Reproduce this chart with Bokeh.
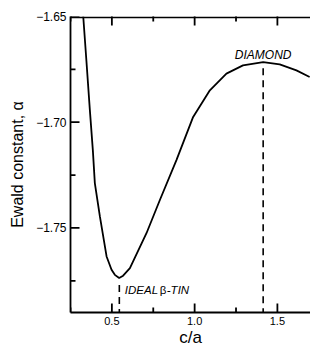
from bokeh.plotting import figure
from bokeh.models import Range1d, FixedTicker, ColumnDataSource
from bokeh.embed import file_html
from bokeh.resources import INLINE
from bokeh.core.properties import value

# Ewald constant vs c/a
ca = [0.327, 0.346, 0.367, 0.385, 0.397, 0.428, 0.468, 0.498, 0.518, 0.544,
      0.568, 0.609, 0.709, 0.790, 0.890, 0.991, 1.092, 1.192, 1.292, 1.414,
      1.514, 1.615, 1.695]
alpha = [-1.6500, -1.6708, -1.6943, -1.7132, -1.7288, -1.7448, -1.7635, -1.7698,
         -1.7722, -1.7737, -1.7726, -1.7690, -1.7525, -1.7368, -1.7179, -1.6975,
         -1.6849, -1.6770, -1.6731, -1.6716, -1.6726, -1.6755, -1.6786]

# marked structures
marker_ca = [0.545, 1.414]
marker_top = [-1.7770, -1.6745]

x_ticks = [0.5, 1.0, 1.5]
x_tick_labels = ["0.5", "1.0", "1.5"]
x_minor = [0.25, 0.75, 1.25]
y_ticks = [-1.75, -1.70, -1.65]
y_tick_labels = ["\u22121.75", "\u22121.70", "\u22121.65"]
y_minor = [-1.775, -1.725, -1.675]

XMIN, XMAX = 0.25, 1.70
YMIN, YMAX = -1.79, -1.65

W, H = 310, 349
BL, BR, BT, BB = 70, 0, 16, 36
FONT = "Liberation Sans"
LW = 1.8

p = figure(width=W, height=H, output_backend="svg", toolbar_location=None,
           x_range=Range1d(XMIN, XMAX), y_range=Range1d(YMIN, YMAX),
           min_border_left=BL, min_border_right=BR, min_border_top=BT,
           min_border_bottom=BB, x_axis_location="below", y_axis_location="left")
p.grid.visible = False
p.outline_line_color = None
p.background_fill_color = "white"
p.border_fill_color = "white"

# data units per screen pixel
dx = (XMAX - XMIN) / (W - BL - BR)
dy = (YMAX - YMIN) / (H - BT - BB)


def style_axis(ax):
    ax.axis_line_color = "black"
    ax.axis_line_width = LW
    ax.major_tick_line_color = None
    ax.minor_tick_line_color = None
    ax.major_tick_in = 0
    ax.major_tick_out = 0
    ax.minor_tick_in = 0
    ax.minor_tick_out = 0
    ax.major_label_text_font = FONT
    ax.major_label_text_color = "black"
    ax.axis_label_text_font = FONT
    ax.axis_label_text_font_style = "normal"
    ax.axis_label_text_color = "black"


xa = p.xaxis[0]
xa.ticker = FixedTicker(ticks=x_ticks, minor_ticks=x_minor)
xa.major_label_overrides = {t: l for t, l in zip(x_ticks, x_tick_labels)}
style_axis(xa)
xa.major_label_text_font_size = "11px"
xa.major_label_standoff = 4
xa.axis_label = "c/a"
xa.axis_label_text_font_size = "17px"
xa.axis_label_standoff = 0

ya = p.yaxis[0]
ya.ticker = FixedTicker(ticks=y_ticks, minor_ticks=y_minor)
ya.major_label_overrides = {t: l for t, l in zip(y_ticks, y_tick_labels)}
style_axis(ya)
ya.major_label_text_font_size = "12px"
ya.major_label_standoff = 4
ya.axis_label = "Ewald constant, \u03b1"
ya.axis_label_text_font_size = "16px"
ya.axis_label_standoff = 7

# top frame line (just inside the frame)
top_src = ColumnDataSource(dict(x=[XMIN, XMAX], y=[YMAX - 0.9 * dy] * 2))
p.line(x="x", y="y", source=top_src, line_color="black", line_width=LW)

MAJ, MIN_ = 9, 5

# bottom x ticks + left y ticks (inward): one combined segment source
x0, y0, x1, y1 = [], [], [], []
for t in x_ticks + x_minor:
    ln = MAJ if t in x_ticks else MIN_
    x0.append(t); x1.append(t); y0.append(YMIN); y1.append(YMIN + ln * dy)
for t in y_ticks + y_minor:
    ln = MAJ if t in y_ticks else MIN_
    x0.append(XMIN); x1.append(XMIN + ln * dx); y0.append(t); y1.append(t)
tick_src = ColumnDataSource(dict(x0=x0, y0=y0, x1=x1, y1=y1))
p.segment(x0="x0", y0="y0", x1="x1", y1="y1", source=tick_src,
          line_color="black", line_width=LW)

# top x ticks as thin rects centred on the top edge (outer half clipped)
top_maj = ColumnDataSource(dict(x=x_ticks, y=[YMAX] * len(x_ticks)))
top_min = ColumnDataSource(dict(x=x_minor, y=[YMAX] * len(x_minor)))
p.rect(x="x", y="y", width=LW, height=2 * MAJ, width_units="screen",
       height_units="screen", source=top_maj, fill_color="black", line_color=None)
p.rect(x="x", y="y", width=LW, height=2 * MIN_, width_units="screen",
       height_units="screen", source=top_min, fill_color="black", line_color=None)

# curve
p.line(ca, alpha, line_color="black", line_width=LW)

# dashed markers
seg = ColumnDataSource(dict(x=marker_ca, y0=marker_top, y1=[YMIN] * len(marker_ca)))
p.segment(x0="x", y0="y0", x1="x", y1="y1", source=seg, line_color="black",
          line_width=1.6, line_dash="7 5")

# labels
p.text(x=[marker_ca[1]], y=[-1.6684], text=["DIAMOND"], text_align="center",
       text_baseline="alphabetic", text_font=value(FONT), text_font_size="12px",
       text_font_style="italic", text_color="black")

lx, ly = 0.578, -1.7795
p.text(x=[lx], y=[ly], text=["IDEAL"], text_align="left", text_baseline="alphabetic",
       text_font=value(FONT), text_font_size="11.5px", text_font_style="italic",
       text_color="black")
p.text(x=[lx], y=[ly], text=["\u03b2"], x_offset=35, text_align="left",
       text_baseline="alphabetic", text_font=value(FONT), text_font_size="11.5px",
       text_font_style="normal", text_color="black")
p.text(x=[lx], y=[ly], text=["-TIN"], x_offset=42, text_align="left",
       text_baseline="alphabetic", text_font=value(FONT), text_font_size="11.5px",
       text_font_style="italic", text_color="black")

open("out.html", "w").write(file_html(p, INLINE))
